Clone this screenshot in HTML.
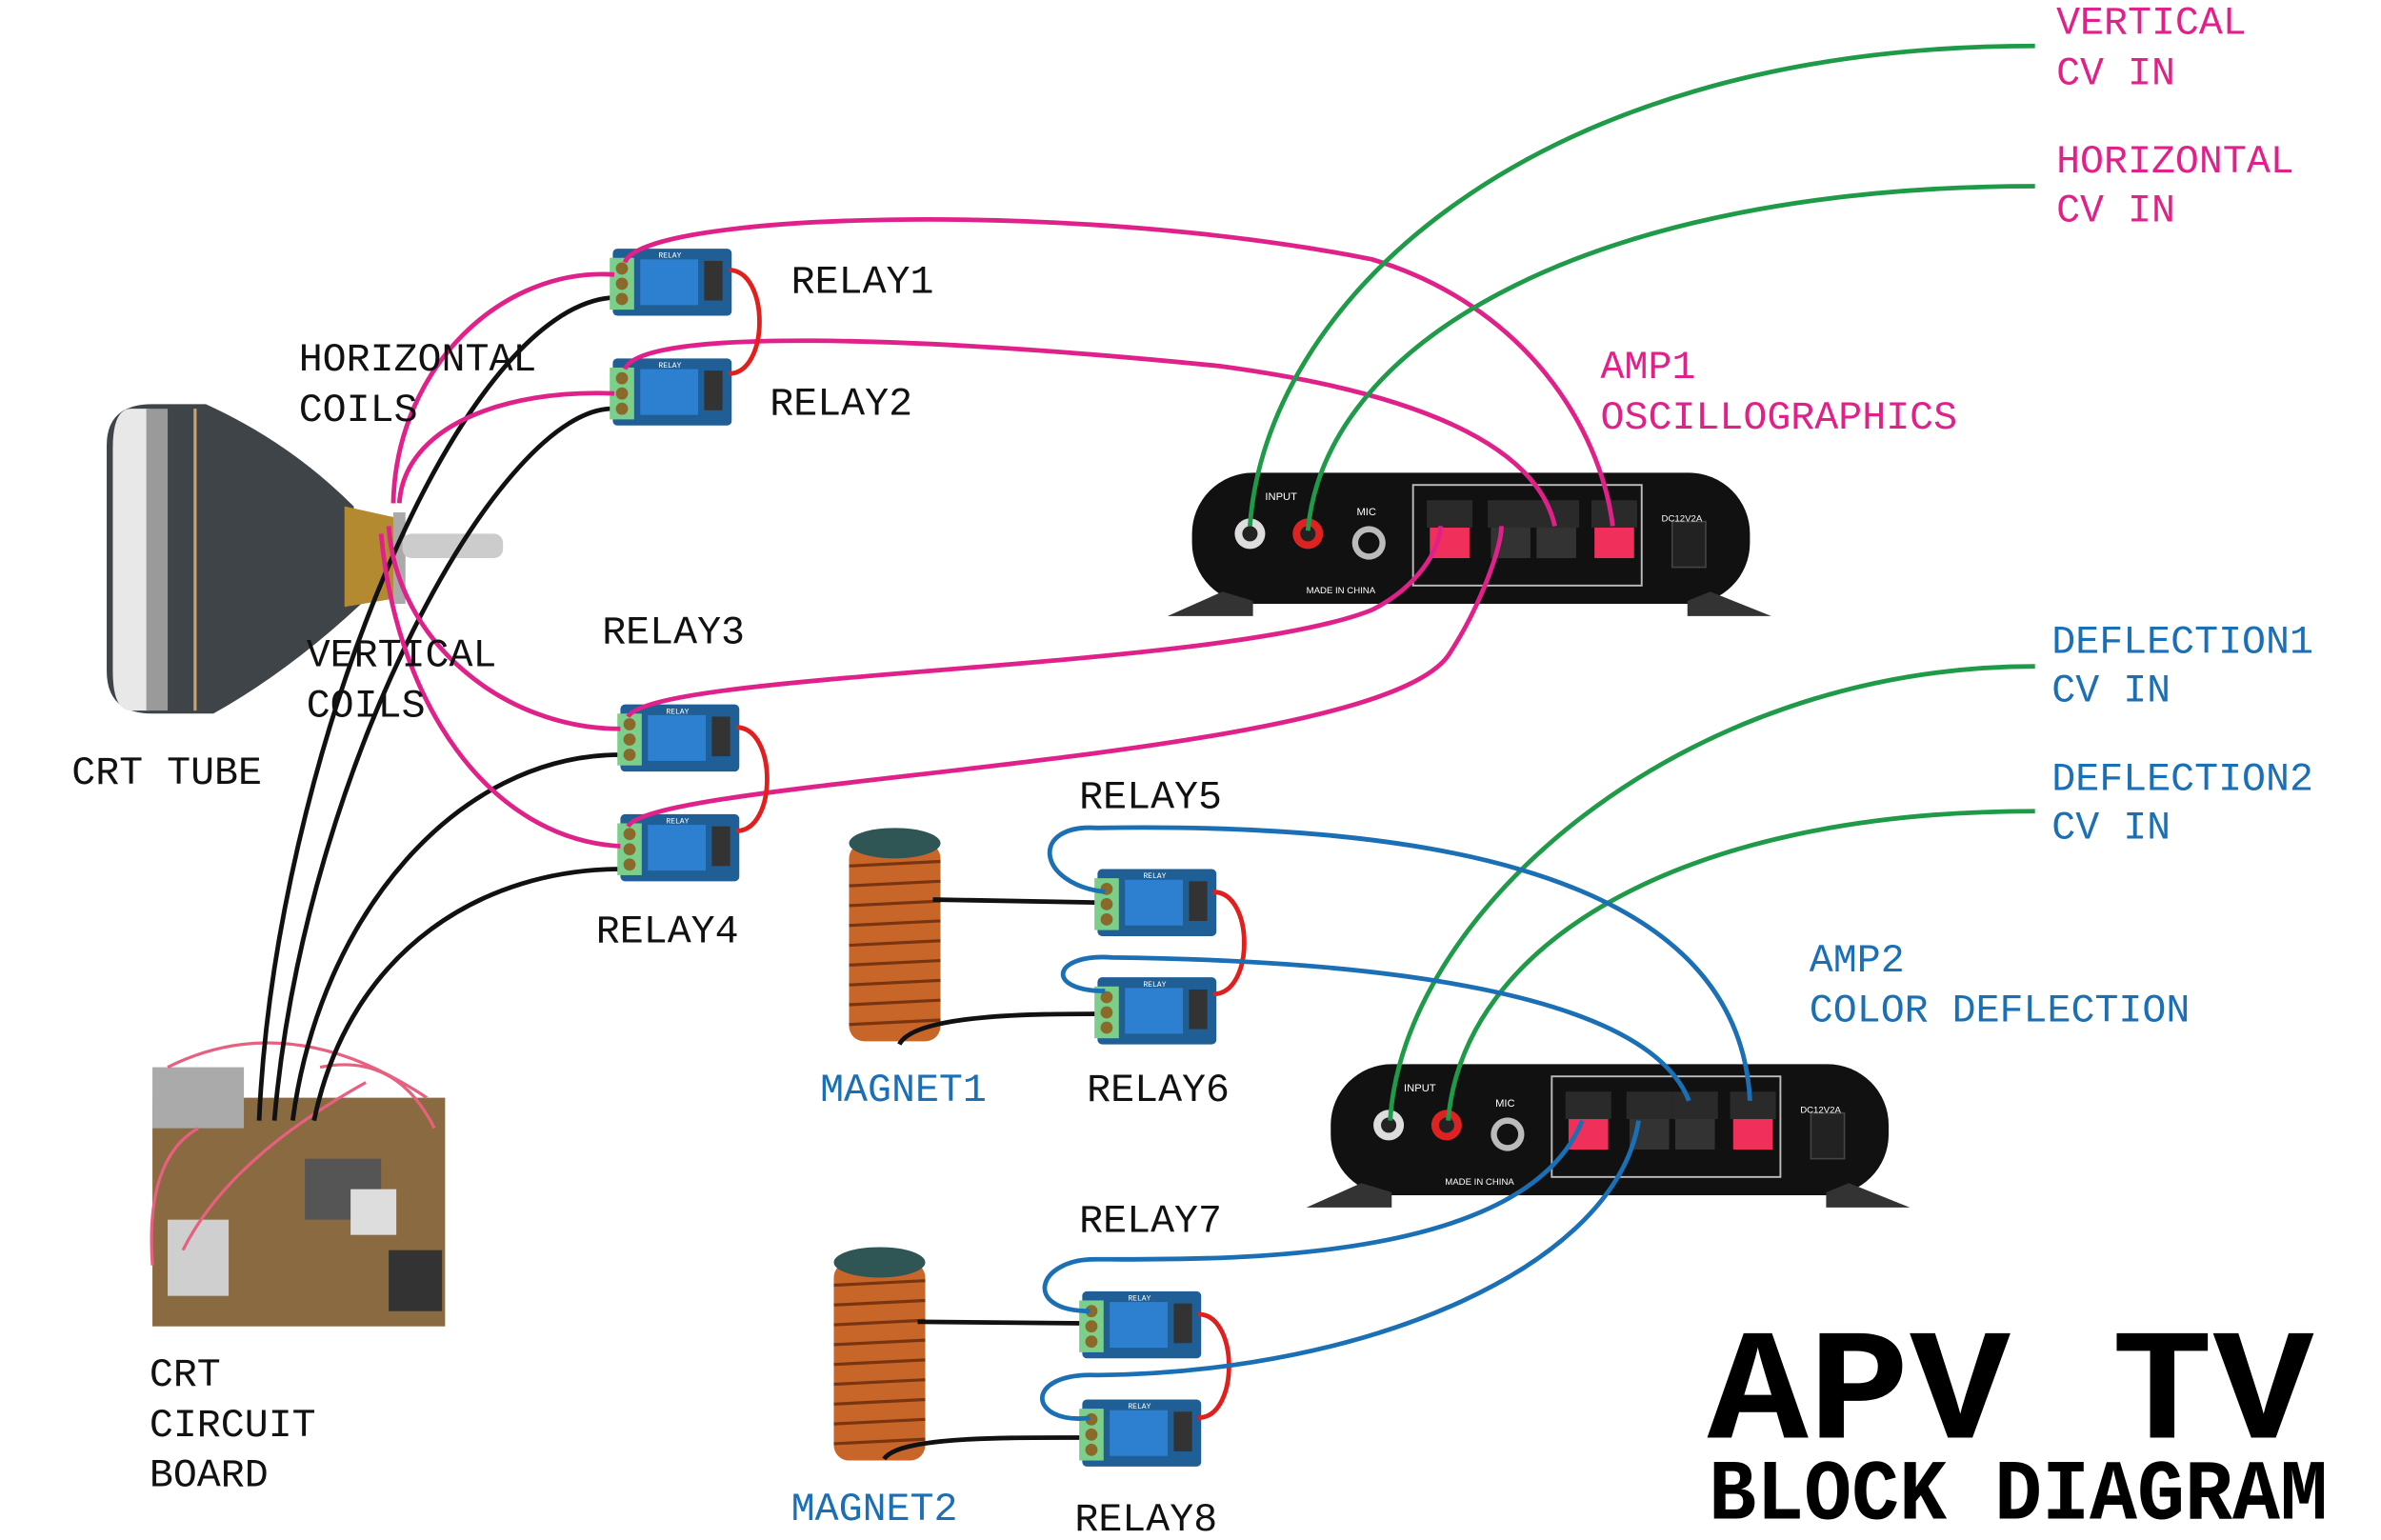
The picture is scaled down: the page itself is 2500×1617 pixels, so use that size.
<!DOCTYPE html>
<html><head><meta charset="utf-8"><style>
html,body{margin:0;padding:0;background:#fff;}
svg{display:block;}
text{font-family:"Liberation Mono",monospace;font-size:26px;}
</style></head><body>
<svg width="2500" height="1617" viewBox="0 0 1562 1010" xmlns="http://www.w3.org/2000/svg">
<defs>
<g id="relay">
 <rect x="0" y="0" width="78" height="44" rx="3" fill="#1f5f95"/>
 <rect x="-2" y="6" width="16" height="34" fill="#7ccf8a"/>
 <circle cx="6" cy="13" r="4" fill="#8a6a2a"/><circle cx="6" cy="23" r="4" fill="#8a6a2a"/><circle cx="6" cy="33" r="4" fill="#8a6a2a"/>
 <rect x="18" y="7" width="38" height="30" fill="#2d7fd0"/>
 <rect x="60" y="8" width="12" height="26" fill="#333"/>
 <text x="30" y="6" style="font-size:5px" fill="#fff">RELAY</text>
</g>
<g id="amp">
 <rect x="0" y="0" width="366" height="86" rx="40" fill="#111"/>
 <rect x="145" y="8" width="150" height="66" fill="none" stroke="#bbb" stroke-width="1.2"/>
 <circle cx="38" cy="40" r="10" fill="#ddd"/><circle cx="38" cy="40" r="5" fill="#222"/>
 <circle cx="76" cy="40" r="10" fill="#d22"/><circle cx="76" cy="40" r="5" fill="#222"/>
 <circle cx="116" cy="46" r="11" fill="#bbb"/><circle cx="116" cy="46" r="7" fill="#111"/>
 <rect x="154" y="18" width="30" height="18" fill="#2a2a2a"/><rect x="156" y="36" width="26" height="20" fill="#f0305a"/>
 <rect x="194" y="18" width="30" height="18" fill="#2a2a2a"/><rect x="196" y="36" width="26" height="20" fill="#333"/>
 <rect x="224" y="18" width="30" height="18" fill="#2a2a2a"/><rect x="226" y="36" width="26" height="20" fill="#333"/>
 <rect x="262" y="18" width="30" height="18" fill="#2a2a2a"/><rect x="264" y="36" width="26" height="20" fill="#f0305a"/>
 <rect x="315" y="32" width="22" height="30" fill="#222" stroke="#444"/>
 <text x="48" y="18" style="font-size:7px;font-family:'Liberation Sans'" fill="#fff">INPUT</text>
 <text x="108" y="28" style="font-size:7px;font-family:'Liberation Sans'" fill="#fff">MIC</text>
 <text x="308" y="32" style="font-size:6px;font-family:'Liberation Sans'" fill="#fff">DC12V2A</text>
 <text x="75" y="79" style="font-size:6px;font-family:'Liberation Sans'" fill="#fff">MADE IN CHINA</text>
 <path d="M20,78 L-16,94 L40,94 L40,84Z" fill="#333"/>
 <path d="M340,78 L380,94 L325,94 L325,84Z" fill="#333"/>
</g>
<g id="coil">
 <rect x="0" y="10" width="60" height="130" rx="10" fill="#c8662a"/>
 <g stroke="#7a3510" stroke-width="2">
  <line x1="0" y1="25" x2="60" y2="22"/><line x1="0" y1="38" x2="60" y2="35"/><line x1="0" y1="51" x2="60" y2="48"/><line x1="0" y1="64" x2="60" y2="61"/><line x1="0" y1="77" x2="60" y2="74"/><line x1="0" y1="90" x2="60" y2="87"/><line x1="0" y1="103" x2="60" y2="100"/><line x1="0" y1="116" x2="60" y2="113"/><line x1="0" y1="129" x2="60" y2="126"/>
 </g>
 <ellipse cx="30" cy="10" rx="30" ry="10" fill="#2f5555"/>
</g>
</defs>

<!-- CRT tube -->
<path d="M100,265 L135,265 Q190,290 232,332 L238,395 Q190,440 140,468 L100,468 Q70,468 70,440 L70,292 Q70,265 100,265Z" fill="#3e4448"/>
<path d="M86,268 L98,268 L98,466 L86,466 Q74,466 74,440 L74,294 Q74,268 86,268Z" fill="#e8e8e8"/>
<rect x="96" y="268" width="14" height="198" fill="#9a9a9a"/>
<line x1="128" y1="268" x2="128" y2="466" stroke="#c9a36a" stroke-width="2"/>
<path d="M226,332 L262,340 L262,392 L226,398Z" fill="#b48a30"/>
<rect x="258" y="336" width="8" height="60" fill="#aaa"/>
<rect x="264" y="350" width="66" height="16" rx="6" fill="#ccc"/>

<!-- circuit board -->
<rect x="100" y="720" width="192" height="150" fill="#8a6a40"/>
<rect x="100" y="700" width="60" height="40" fill="#aaa"/>
<rect x="200" y="760" width="50" height="40" fill="#555"/>
<rect x="230" y="780" width="30" height="30" fill="#ddd"/>
<rect x="255" y="820" width="35" height="40" fill="#333"/>
<rect x="110" y="800" width="40" height="50" fill="#cfcfcf"/>
<path d="M110,700 Q190,660 280,720 M120,820 Q150,760 240,710 M210,700 Q260,690 285,740 M100,830 Q95,760 130,740" stroke="#e86080" stroke-width="2" fill="none"/>

<!-- magnets -->
<use href="#coil" x="557" y="543"/>
<use href="#coil" x="547" y="818"/>

<!-- black wires -->
<g stroke="#111" stroke-width="3" fill="none">
 <path d="M170,735 C180,500 300,200 403,195"/>
 <path d="M180,735 C200,500 330,265 403,268"/>
 <path d="M192,735 C210,600 300,495 407,495"/>
 <path d="M206,735 C230,620 320,570 407,570"/>
 <path d="M612,590 L722,592"/>
 <path d="M590,685 C600,665 680,665 722,665"/>
 <path d="M602,867 L712,868"/>
 <path d="M580,957 C590,942 660,943 712,943"/>
</g>

<!-- amps -->
<use href="#amp" x="782" y="310"/>
<use href="#amp" x="873" y="698"/>

<!-- relays -->
<use href="#relay" x="402" y="163"/>
<use href="#relay" x="402" y="235"/>
<use href="#relay" x="407" y="462"/>
<use href="#relay" x="407" y="534"/>
<use href="#relay" x="720" y="570"/>
<use href="#relay" x="720" y="641"/>
<use href="#relay" x="710" y="847"/>
<use href="#relay" x="710" y="918"/>

<!-- pink wires -->
<g stroke="#e0218a" stroke-width="3" fill="none">
 <path d="M410,172 C420,140 700,130 900,170 C1000,200 1050,280 1058,345"/>
 <path d="M410,242 C420,215 600,220 800,240 C950,260 1010,300 1020,345"/>
 <path d="M403,180 C330,175 260,240 258,330"/>
 <path d="M403,258 C330,255 265,280 262,330"/>
 <path d="M255,345 C260,420 330,478 407,478"/>
 <path d="M412,470 C430,440 800,440 900,400 C930,385 945,360 945,345"/>
 <path d="M250,350 C260,460 320,550 407,555"/>
 <path d="M412,542 C430,510 900,500 950,430 C970,400 985,360 985,345"/>
</g>
<!-- red jumpers -->
<g stroke="#e0201f" stroke-width="3" fill="none">
 <path d="M478,177 C505,177 505,245 478,245"/>
 <path d="M483,477 C510,477 510,545 483,545"/>
 <path d="M796,585 C823,585 823,652 796,652"/>
 <path d="M786,862 C813,862 813,930 786,930"/>
</g>
<!-- green wires -->
<g stroke="#1e9a48" stroke-width="3" fill="none">
 <path d="M1335,30 C1000,30 830,200 820,345"/>
 <path d="M1335,122 C1050,122 870,220 858,348"/>
 <path d="M1335,437 C1100,437 920,600 912,735"/>
 <path d="M1335,532 C1100,532 960,620 950,735"/>
</g>
<!-- blue wires -->
<g stroke="#1a6fb5" stroke-width="3" fill="none">
 <path d="M725,585 C680,580 675,540 720,543 C900,540 1140,560 1148,722"/>
 <path d="M725,650 C685,650 690,625 730,628 C900,630 1080,650 1108,722"/>
 <path d="M715,860 C670,860 680,825 720,826 C800,826 1000,830 1038,735"/>
 <path d="M715,930 C675,935 670,900 720,902 C900,900 1060,830 1075,735"/>
</g>

<!-- labels -->
<g fill="#111">
 <text x="519" y="192">RELAY1</text>
 <text x="505" y="272">RELAY2</text>
 <text x="196" y="243">HORIZONTAL</text>
 <text x="196" y="276">COILS</text>
 <text x="201" y="437">VERTICAL</text>
 <text x="201" y="470">COILS</text>
 <text x="47" y="514">CRT TUBE</text>
 <text x="395" y="422">RELAY3</text>
 <text x="391" y="618">RELAY4</text>
 <text x="708" y="530">RELAY5</text>
 <text x="713" y="722">RELAY6</text>
 <text x="708" y="808">RELAY7</text>
 <text x="705" y="1004">RELAY8</text>
 <text x="98" y="909">CRT</text>
 <text x="98" y="942">CIRCUIT</text>
 <text x="98" y="975">BOARD</text>
</g>
<g fill="#e0218a">
 <text x="1050" y="248">AMP1</text>
 <text x="1050" y="281">OSCILLOGRAPHICS</text>
 <text x="1349" y="22">VERTICAL</text>
 <text x="1349" y="55">CV IN</text>
 <text x="1349" y="113">HORIZONTAL</text>
 <text x="1349" y="145">CV IN</text>
</g>
<g fill="#1a6fb5">
 <text x="538" y="722">MAGNET1</text>
 <text x="519" y="997">MAGNET2</text>
 <text x="1346" y="428">DEFLECTION1</text>
 <text x="1346" y="460">CV IN</text>
 <text x="1346" y="518">DEFLECTION2</text>
 <text x="1346" y="550">CV IN</text>
 <text x="1187" y="637">AMP2</text>
 <text x="1187" y="670">COLOR DEFLECTION</text>
</g>
<text x="1120" y="943" textLength="398" lengthAdjust="spacingAndGlyphs" style="font-family:'Liberation Mono',monospace;font-size:104px;font-weight:bold" fill="#000">APV TV</text>
<text x="1121" y="996" textLength="406" lengthAdjust="spacingAndGlyphs" style="font-family:'Liberation Mono',monospace;font-size:56px;font-weight:bold" fill="#000">BLOCK DIAGRAM</text>
</svg>
</body></html>
